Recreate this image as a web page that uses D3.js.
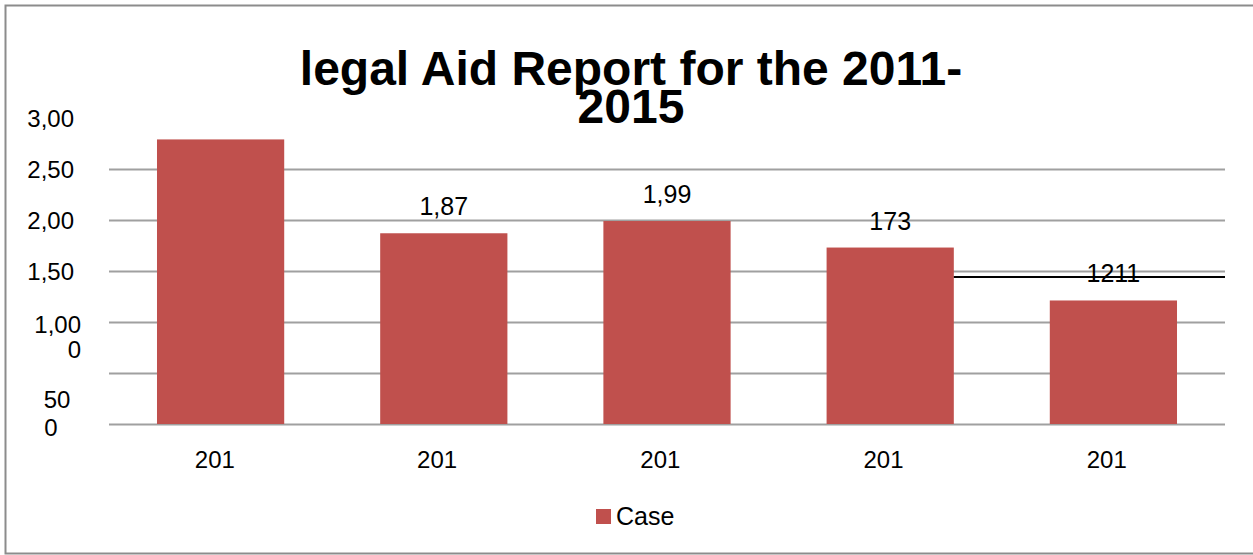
<!DOCTYPE html>
<html>
<head>
<meta charset="utf-8">
<script src="https://cdn.jsdelivr.net/npm/d3@7"></script>
<style>
  body { margin: 0; background: #fff; }
  svg { display: block; font-family: "Liberation Sans", Arial, sans-serif; }
</style>
</head>
<body>
<svg id="chart"></svg>
<script>
// values
var years = ["2011", "2012", "2013", "2014", "2015"],
  categoryLabels = ["201", "201", "201", "201", "201"],
  cases = [2790, 1870, 1990, 1730, 1211],
  barLabels = ["", "1,87", "1,99", "173", "1211"],
  gridValues = [0, 500, 1000, 1500, 2000, 2500],
  tickValues = [3000, 2500, 2000, 1500, 1000, 500],
  tickLabels = [["3,00"], ["2,50"], ["2,00"], ["1,50"], ["1,00", "0"], ["50", "0"]],
  titleLines = ["legal Aid Report for the 2011-", "2015"],
  legendLabel = "Case";

var width = 1253,
  height = 555,
  left = 109,
  right = 1225,
  barColor = "#c0504d";

var svg = d3.select("#chart")
  .attr("width", width)
  .attr("height", height);

// outer frame
svg.append("rect")
  .attr("x", 5.5).attr("y", 5.5)
  .attr("width", 1252).attr("height", 548)
  .attr("fill", "none")
  .attr("stroke", "#8c8c8c")
  .attr("stroke-width", 2);

var x = d3.scaleBand()
  .domain(years)
  .range([left, right])
  .paddingInner(0.43)
  .paddingOuter(0.215);

var y = d3.scaleLinear()
  .domain([0, 3000])
  .range([424, 118]);

// gridlines
svg.append("g").selectAll("line")
  .data(gridValues).enter()
  .append("line")
  .attr("x1", left).attr("x2", right)
  .attr("y1", function(d){ return Math.round(y(d)) + 0.5 })
  .attr("y2", function(d){ return Math.round(y(d)) + 0.5 })
  .attr("stroke", "#a0a0a0")
  .attr("stroke-width", 2);

// y tick labels, wrapped and placed the way the original has them
var ticks = svg.append("g").attr("font-size", 24).attr("fill", "#000");
tickValues.forEach(function(v, i){
  tickLabels[i].forEach(function(t, j){
    var tx = 74, anchor = "end", ty = y(v) + 9;
    if (v === 1000) {
      tx = 81;
      ty = y(v) + 11 + j * 25;
    }
    if (v === 500) {
      anchor = "middle";
      tx = j === 0 ? 57 : 51;
      ty = y(v) + 35 + j * 28;
    }
    ticks.append("text")
      .attr("x", tx).attr("y", ty)
      .attr("text-anchor", anchor)
      .text(t);
  });
});

// bars
svg.append("g").selectAll("rect")
  .data(cases).enter()
  .append("rect")
  .attr("x", function(d, i){ return x(years[i]) })
  .attr("y", function(d){ return y(d) })
  .attr("width", x.bandwidth())
  .attr("height", function(d){ return y(0) - y(d) })
  .attr("fill", barColor);

// value labels
svg.append("g").selectAll("text")
  .data(cases).enter()
  .append("text")
  .attr("x", function(d, i){ return x(years[i]) + x.bandwidth()/2 })
  .attr("y", function(d){ return y(d) - 18 })
  .attr("text-anchor", "middle")
  .attr("font-size", 25)
  .text(function(d, i){ return barLabels[i] });

// stray black line from the source
svg.append("line")
  .attr("x1", x(years[3]) + x.bandwidth()).attr("x2", right)
  .attr("y1", 277).attr("y2", 277)
  .attr("stroke", "#000")
  .attr("stroke-width", 2);

// category labels: the full year is centred, its last digit is cut off
var cats = svg.append("g").attr("font-size", 24);
cats.selectAll("text")
  .data(categoryLabels).enter()
  .append("text")
  .attr("y", 468)
  .text(function(d, i){ return years[i] })
  .each(function(d, i){
    var w = this.getComputedTextLength();
    d3.select(this)
      .attr("x", x(years[i]) + x.bandwidth()/2 - w/2)
      .text(d);
  });

// title
svg.append("g").selectAll("text")
  .data(titleLines).enter()
  .append("text")
  .attr("x", 631)
  .attr("y", function(d, i){ return 85 + i * 38 })
  .attr("text-anchor", "middle")
  .attr("font-size", 48)
  .attr("font-weight", "bold")
  .text(function(d){ return d });

// legend
var legend = svg.append("g");
legend.append("rect")
  .attr("x", 596).attr("y", 509)
  .attr("width", 15).attr("height", 15)
  .attr("fill", barColor);
legend.append("text")
  .attr("x", 616).attr("y", 525)
  .attr("font-size", 25)
  .text(legendLabel);
</script>
</body>
</html>
